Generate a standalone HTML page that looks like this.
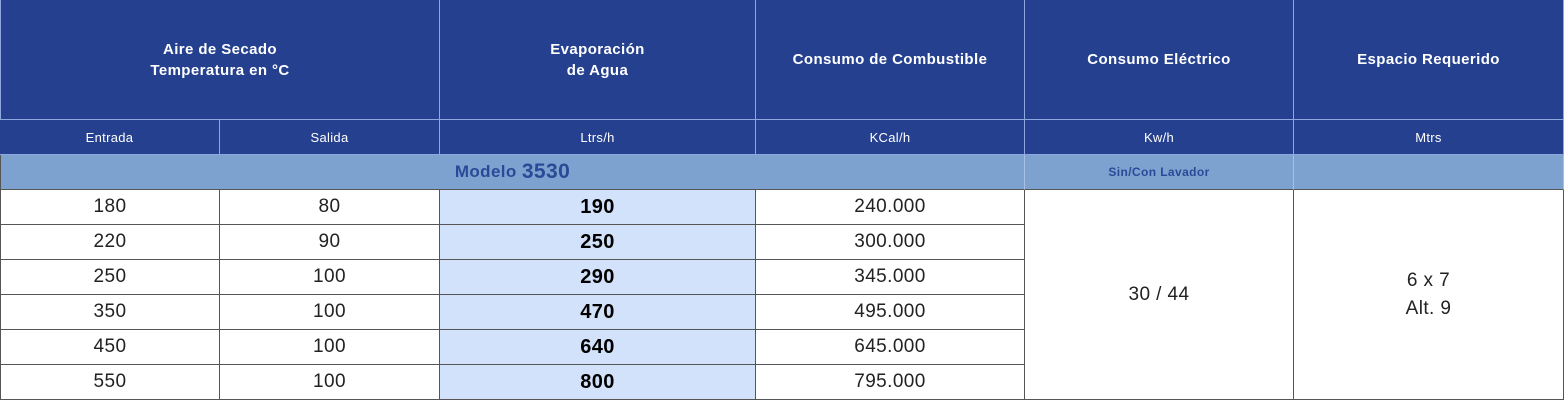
<!DOCTYPE html>
<html><head><meta charset="utf-8"><style>
body{margin:0;width:1564px;height:402px;background:#fff;font-family:"Liberation Sans",sans-serif;overflow:hidden}
.c{position:absolute;box-sizing:border-box;display:flex;align-items:center;justify-content:center;text-align:center}
.h{background:#25408f;color:#fff;font-weight:bold;font-size:15px;line-height:21px;letter-spacing:0.4px;border-right:1px solid #8fa8e0;border-bottom:1px solid #8fa8e0}
.s{background:#25408f;color:#fff;font-size:13px;letter-spacing:0.3px;border-right:1px solid #8fa8e0;border-bottom:1px solid #8fa8e0}
.m{background:#7ea2cf;color:#2a4a98;font-weight:bold;letter-spacing:0.4px;border-right:1px solid #a9c0e4;border-bottom:1px solid #555}
.d{color:#222;font-size:19px;letter-spacing:0.4px;border-right:1px solid #555;border-bottom:1px solid #555}
.b{background:#d2e2fa;font-weight:bold;color:#000;font-size:20px}
</style></head><body>
<div class="c h" style="left:0;top:0;width:440px;height:120px;border-left:1px solid #8fa8e0">Aire de Secado<br>Temperatura en °C</div>
<div class="c h" style="left:440px;top:0;width:316px;height:120px">Evaporación<br>de Agua</div>
<div class="c h" style="left:756px;top:0;width:269px;height:120px">Consumo de Combustible</div>
<div class="c h" style="left:1025px;top:0;width:269px;height:120px">Consumo Eléctrico</div>
<div class="c h" style="left:1294px;top:0;width:270px;height:120px">Espacio Requerido</div>
<div class="c s" style="left:0;top:120px;width:220px;height:35px">Entrada</div>
<div class="c s" style="left:220px;top:120px;width:220px;height:35px">Salida</div>
<div class="c s" style="left:440px;top:120px;width:316px;height:35px">Ltrs/h</div>
<div class="c s" style="left:756px;top:120px;width:269px;height:35px">KCal/h</div>
<div class="c s" style="left:1025px;top:120px;width:269px;height:35px">Kw/h</div>
<div class="c s" style="left:1294px;top:120px;width:270px;height:35px">Mtrs</div>
<div class="c m" style="left:0;top:155px;width:1025px;height:35px;font-size:17px;border-left:1px solid #555">Modelo&nbsp;<span style="font-size:21px">3530</span></div>
<div class="c m" style="left:1025px;top:155px;width:269px;height:35px;font-size:12px">Sin/Con Lavador</div>
<div class="c m" style="left:1294px;top:155px;width:270px;height:35px"></div>
<div class="c d" style="left:1025px;top:190px;width:269px;height:210px">30 / 44</div>
<div class="c d" style="left:1294px;top:190px;width:270px;height:210px;line-height:28px">6 x 7<br>Alt. 9</div>
<div id="rows"></div>
<script>
var data=[["180","80","190","240.000"],["220","90","250","300.000"],["250","100","290","345.000"],["350","100","470","495.000"],["450","100","640","645.000"],["550","100","800","795.000"]];
var L=[0,220,440,756],W=[220,220,316,269],h="";
data.forEach(function(r,i){var t=190+i*35;r.forEach(function(v,j){h+='<div class="c d'+(j==2?' b':'')+'" style="left:'+L[j]+'px;top:'+t+'px;width:'+W[j]+'px;height:35px'+(j==0?';border-left:1px solid #555':'')+'">'+v+'</div>';});});
document.getElementById("rows").innerHTML=h;
</script>
</body></html>
